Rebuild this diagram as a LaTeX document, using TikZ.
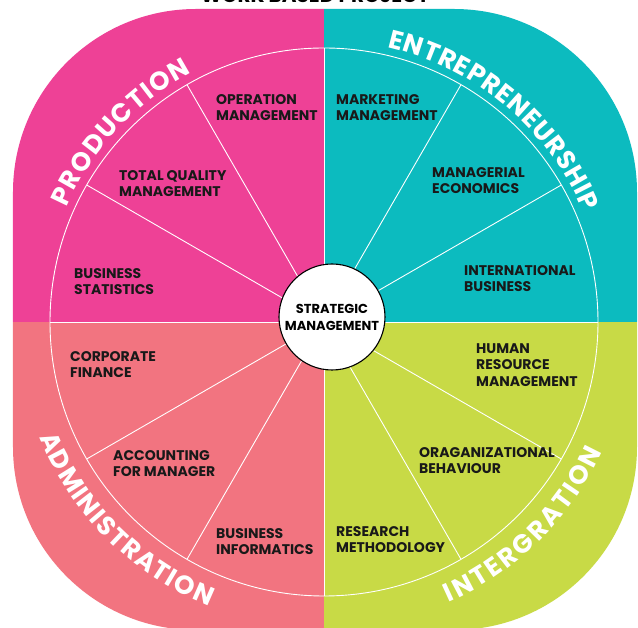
\documentclass[tikz,border=0pt]{standalone}
\usepackage{fontspec}
\setmainfont{Poppins}
\usepackage{xcolor}
\usepackage{tikz}
\usetikzlibrary{decorations.text}

\definecolor{prodpink}{RGB}{238,65,150}
\definecolor{entteal}{RGB}{12,187,191}
\definecolor{admsalmon}{RGB}{242,116,128}
\definecolor{intlime}{RGB}{200,218,70}
\newcommand{\ringfont}{\fontsize{26}{26}\selectfont\bfseries}

\tikzset{
  spoke/.style={white, line width=0.9pt},
  subject/.style={anchor=north west, inner sep=0pt, align=left, text=black!90,
    font=\fontsize{14}{16.5}\selectfont\bfseries},
  hub/.style={circle, draw=black, line width=1.1pt, fill=white, minimum size=106pt,
    inner sep=0pt, align=center, font=\fontsize{13}{17}\selectfont\bfseries},
  ringlabel/.style={decorate, decoration={text along path, text align={fit to path}, text color=white}}
}

\begin{document}
\begin{tikzpicture}[x=1pt,y=1pt]
\useasboundingbox (-324,-306) rectangle (314,322);
\node[anchor=base, font=\fontsize{20}{20}\selectfont\bfseries] (title) at (-9,319) {WORK BASED PROJECT};
% the four quadrants
\begin{scope}
\clip[rounded corners=183pt] (-311,-308) rectangle (313,313);
\fill[prodpink] (0,0) rectangle (-330,330);
\fill[entteal] (0,0) rectangle (330,330);
\fill[admsalmon] (0,0) rectangle (-330,-330);
\fill[intlime] (0,0) rectangle (330,-330);
\end{scope}
\coordinate (o) at (0,0);
\foreach \a in {0,30,...,330} % spokes every 30 degrees
{\coordinate (r\a) at (\a:274);
\draw[spoke] (o) -- (r\a);}
\draw[spoke] (o) circle (274);
% curved headings
\path[ringlabel, decoration={text={|\ringfont|PRODUCTION}}] (156:282) arc (156:118:282);
\path[ringlabel, decoration={text={|\ringfont|ENTREPRENEURSHIP}}] (77:282) arc (77:23:282);
\path[ringlabel, decoration={text={|\ringfont|ADMINISTRATION}}] (202:307) arc (202:248:307);
\path[ringlabel, decoration={text={|\ringfont|INTERGRATION}}] (294:307) arc (294:335:307);
% subjects
\node[subject] (opm) at (-108,228) {OPERATION\\MANAGEMENT};
\node[subject] (tqm) at (-205,152) {TOTAL QUALITY\\MANAGEMENT};
\node[subject] (bst) at (-250,54) {BUSINESS\\STATISTICS};
\node[subject] (mkm) at (12,228) {MARKETING\\MANAGEMENT};
\node[subject] (mge) at (108,155) {MANAGERIAL\\ECONOMICS};
\node[subject] (inb) at (140,57) {INTERNATIONAL\\BUSINESS};
\node[subject] (cpf) at (-254,-29) {CORPORATE\\FINANCE};
\node[subject] (afm) at (-211,-128) {ACCOUNTING\\FOR MANAGER};
\node[subject] (bsi) at (-108,-206) {BUSINESS\\INFORMATICS};
\node[subject] (hrm) at (152,-21) {HUMAN\\RESOURCE\\MANAGEMENT};
\node[subject] (orb) at (95,-125) {ORAGANIZATIONAL\\BEHAVIOUR};
\node[subject] (rsm) at (12,-204) {RESEARCH\\METHODOLOGY};
\node[hub] (stm) at (8,5) {STRATEGIC\\MANAGEMENT};
\end{tikzpicture}
\end{document}
